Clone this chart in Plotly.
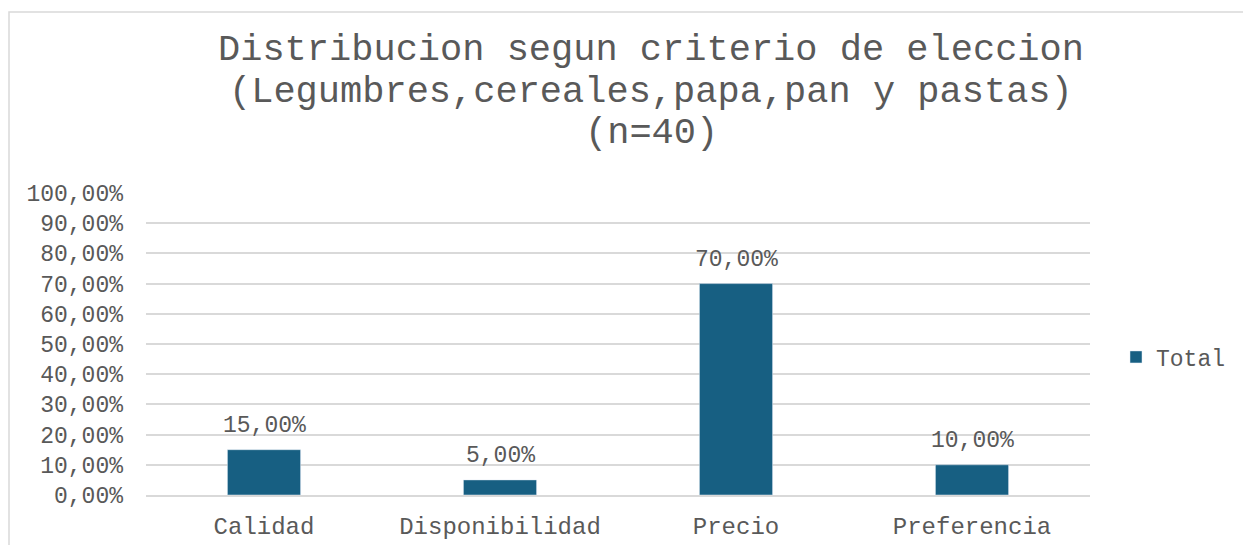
import plotly.graph_objects as go

categories = ["Calidad", "Disponibilidad", "Precio", "Preferencia"]
values = [0.15, 0.05, 0.70, 0.10]
series_name = "Total"
title_lines = [
    "Distribucion segun criterio de eleccion",
    "(Legumbres,cereales,papa,pan y pastas)",
    "(n=40)",
]

BAR = "#175F82"
GRID = "#D9D9D9"
TXT = "#595959"
MONO = "Liberation Mono"

# plot area in figure pixels
L, R, T, B = 138, 1082, 185, 487
W, H = 1251, 545
PW, PH = R - L, B - T

def px_x(x):
    return (x - L) / PW

def px_y(y):
    return (B - y) / PH

fig = go.Figure()
fig.add_trace(go.Bar(
    x=categories, y=values, name=series_name,
    marker=dict(color=BAR), width=0.31,
    showlegend=True,
))

annotations = []
for c, v in zip(categories, values):
    annotations.append(dict(
        x=c, y=v, xref="x", yref="y", text=f"{v*100:.2f}%".replace(".", ","),
        showarrow=False, yanchor="bottom", yshift=9,
        font=dict(family=MONO, size=23, color=TXT),
    ))
title_y = [42, 84, 125]
for line, yc in zip(title_lines, title_y):
    annotations.append(dict(
        x=px_x(643), y=px_y(yc), xref="paper", yref="paper",
        text=line, showarrow=False, xanchor="center", yanchor="middle",
        font=dict(family=MONO, size=37, color=TXT),
    ))

fig.update_layout(
    width=W, height=H,
    margin=dict(l=L, r=W - R, t=T, b=H - B),
    paper_bgcolor="white", plot_bgcolor="white",
    separators=",.",
    showlegend=True,
    annotations=annotations,
    legend=dict(
        x=px_x(1108), y=0.457, xanchor="left", yanchor="middle",
        font=dict(family=MONO, size=23, color=TXT),
        itemwidth=30, bgcolor="rgba(0,0,0,0)",
    ),
    xaxis=dict(
        showgrid=False, showline=True, linecolor=GRID, linewidth=1.5,
        tickfont=dict(family=MONO, size=24, color=TXT),
        ticks="", ticklabelstandoff=8,
    ),
    yaxis=dict(
        range=[0, 1.0], tickvals=[i / 10 for i in range(11)], tickformat=".2%",
        showgrid=True, gridcolor=GRID, gridwidth=1.5, zeroline=False,
        showline=False,
        tickfont=dict(family=MONO, size=23, color=TXT),
        ticks="", ticklabelstandoff=22,
    ),
)

fig.add_shape(type="rect", xref="paper", yref="paper",
              x0=px_x(1), x1=px_x(1237),
              y0=px_y(560), y1=px_y(4),
              line=dict(color=GRID, width=1.5), fillcolor="rgba(0,0,0,0)", layer="below")

fig.write_html("out.html")
